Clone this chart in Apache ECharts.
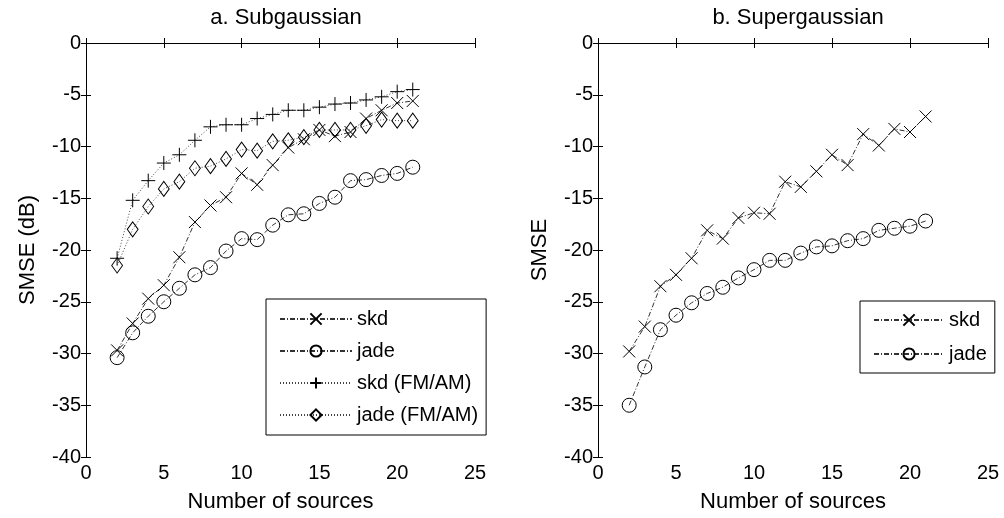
<!DOCTYPE html>
<html>
<head>
<meta charset="utf-8">
<script src="https://cdn.jsdelivr.net/npm/echarts@6/dist/echarts.min.js"></script>
<style>
  html, body { margin: 0; padding: 0; background: #fff; }
  #main { width: 1004px; height: 518px; }
</style>
</head>
<body>
<div id="main"></div>
<script>
// number of sources
var sources = [2, 3, 4, 5, 6, 7, 8, 9, 10, 11, 12, 13, 14, 15, 16, 17, 18, 19, 20, 21];

// a. Subgaussian
var skdSub = [-29.7, -27.1, -24.7, -23.4, -20.7, -17.3, -15.7, -14.9, -12.6, -13.7, -11.8, -10.1, -9.3, -8.4, -9.0, -8.6, -7.3, -6.5, -5.8, -5.6];
var jadeSub = [-30.4, -28.0, -26.4, -25.0, -23.7, -22.4, -21.7, -20.1, -18.9, -19.0, -17.6, -16.6, -16.5, -15.5, -14.9, -13.3, -13.2, -12.8, -12.6, -12.0];
var skdFmSub = [-20.8, -15.2, -13.3, -11.6, -10.8, -9.4, -8.1, -7.9, -7.9, -7.3, -6.9, -6.5, -6.5, -6.2, -5.9, -5.8, -5.5, -5.2, -4.7, -4.5];
var jadeFmSub = [-21.5, -18.0, -15.8, -14.1, -13.4, -12.1, -11.9, -11.2, -10.3, -10.4, -9.5, -9.4, -9.1, -8.4, -8.4, -8.4, -8.0, -7.4, -7.5, -7.5];

// b. Supergaussian
var skdSup = [-29.8, -27.4, -23.5, -22.4, -20.8, -18.1, -18.9, -16.9, -16.4, -16.5, -13.4, -13.9, -12.4, -10.8, -11.8, -8.8, -9.9, -8.3, -8.6, -7.1];
var jadeSup = [-35.0, -31.3, -27.7, -26.3, -25.1, -24.2, -23.6, -22.7, -21.9, -21.0, -21.0, -20.3, -19.7, -19.6, -19.1, -18.9, -18.1, -17.9, -17.7, -17.2];

var xTicks = { min: 0, max: 25, interval: 5 };
var yTicks = { min: -40, max: 0, interval: 5 };

(function(){
    'use strict';

    var FONT = 'Liberation Sans';

    // marker shapes
    var SYM_X = 'path://M0,0L10,10M10,0L0,10';
    var SYM_PLUS = 'path://M5,0L5,10M0,5L10,5';
    var SYM_DIAMOND = 'path://M5,0L10,6L5,12L0,6Z';

    var DASHDOT = [5, 2, 1, 2];
    var DOTTED = [1, 2];

    function pairs(ys) {
        return sources.map(function(x, i){ return [x, ys[i]]; });
    }

    function line(name, ys, idx, symbol, size, dash, color) {
        return {
            name: name,
            type: 'line',
            xAxisIndex: idx * 2,
            yAxisIndex: idx * 2,
            data: pairs(ys),
            symbol: symbol,
            symbolSize: size,
            symbolKeepAspect: true,
            showSymbol: true,
            silent: true,
            lineStyle: { color: color, width: 1, type: dash },
            itemStyle: { color: 'transparent', borderColor: '#000', borderWidth: 1 },
            emphasis: { disabled: true },
            z: 3
        };
    }

    function xAxes(grid) {
        return [
            {
                gridIndex: grid, type: 'value', min: xTicks.min, max: xTicks.max, interval: xTicks.interval,
                position: 'bottom',
                name: 'Number of sources', nameLocation: 'middle', nameGap: 34,
                nameTextStyle: { fontFamily: FONT, fontSize: 22, color: '#000' },
                axisLine: { lineStyle: { color: '#000', width: 1 } },
                axisTick: { inside: true, length: 5, lineStyle: { color: '#000' } },
                axisLabel: { fontFamily: FONT, fontSize: 20, color: '#000', margin: 6 },
                splitLine: { show: false }
            },
            {
                gridIndex: grid, type: 'value', min: xTicks.min, max: xTicks.max, interval: xTicks.interval,
                position: 'top',
                axisLine: { lineStyle: { color: '#000', width: 1 } },
                axisTick: { inside: true, length: 5, lineStyle: { color: '#000' } },
                axisLabel: { show: false },
                splitLine: { show: false }
            }
        ];
    }

    function yAxes(grid, name) {
        return [
            {
                gridIndex: grid, type: 'value', min: yTicks.min, max: yTicks.max, interval: yTicks.interval,
                position: 'left',
                name: name, nameLocation: 'middle', nameGap: 47,
                nameTextStyle: { fontFamily: FONT, fontSize: 22, color: '#000' },
                axisLine: { lineStyle: { color: '#000', width: 1 } },
                axisTick: { inside: true, length: 5, lineStyle: { color: '#000' } },
                axisLabel: { fontFamily: FONT, fontSize: 20, color: '#000', margin: 5 },
                splitLine: { show: false }
            },
            {
                gridIndex: grid, type: 'value', min: yTicks.min, max: yTicks.max, interval: yTicks.interval,
                position: 'right',
                axisLine: { lineStyle: { color: '#000', width: 1 } },
                axisTick: { inside: true, length: 5, lineStyle: { color: '#000' } },
                axisLabel: { show: false },
                splitLine: { show: false }
            }
        ];
    }

    var legendText = { fontFamily: FONT, fontSize: 20, color: '#000' };
    var titleText = { fontFamily: FONT, fontSize: 22, fontWeight: 'normal', color: '#000' };

    var myChart = echarts.init(document.getElementById('main'), null, { renderer: 'canvas' });

    var option = {
        animation: false,
        backgroundColor: '#fff',
        title: [
            { text: 'a. Subgaussian', left: 281, top: 2, textAlign: 'center', textStyle: titleText },
            { text: 'b. Supergaussian', left: 793, top: 2, textAlign: 'center', textStyle: titleText }
        ],
        grid: [
            { left: 86, top: 43, width: 389, height: 414 },
            { left: 598, top: 43, width: 390, height: 414 }
        ],
        xAxis: xAxes(0).concat(xAxes(1)),
        yAxis: yAxes(0, 'SMSE (dB)').concat(yAxes(1, 'SMSE')),
        legend: [
            {
                data: ['skd', 'jade', 'skd (FM/AM)', 'jade (FM/AM)'],
                orient: 'vertical', left: 266, top: 299,
                itemWidth: 72, itemHeight: 14, itemGap: 12,
                padding: [10, 8, 10, 13],
                borderColor: '#000', borderWidth: 1, backgroundColor: '#fff',
                selectedMode: false,
                textStyle: legendText
            },
            {
                data: ['skd ', 'jade '],
                orient: 'vertical', left: 860, top: 301,
                itemWidth: 70, itemHeight: 14, itemGap: 14,
                padding: [9, 8, 9, 13],
                borderColor: '#000', borderWidth: 1, backgroundColor: '#fff',
                selectedMode: false,
                textStyle: legendText,
                formatter: function(n){ return n.trim(); }
            }
        ],
        series: [
            line('skd', skdSub, 0, SYM_X, 12, DASHDOT, '#333'),
            line('jade', jadeSub, 0, 'circle', 14, DASHDOT, '#333'),
            line('skd (FM/AM)', skdFmSub, 0, SYM_PLUS, 14, DOTTED, '#444'),
            line('jade (FM/AM)', jadeFmSub, 0, SYM_DIAMOND, [13, 15], DOTTED, '#444'),
            line('skd ', skdSup, 1, SYM_X, 12, DASHDOT, '#333'),
            line('jade ', jadeSup, 1, 'circle', 14, DASHDOT, '#333')
        ]
    };

    myChart.setOption(option);
}());
</script>
</body>
</html>
